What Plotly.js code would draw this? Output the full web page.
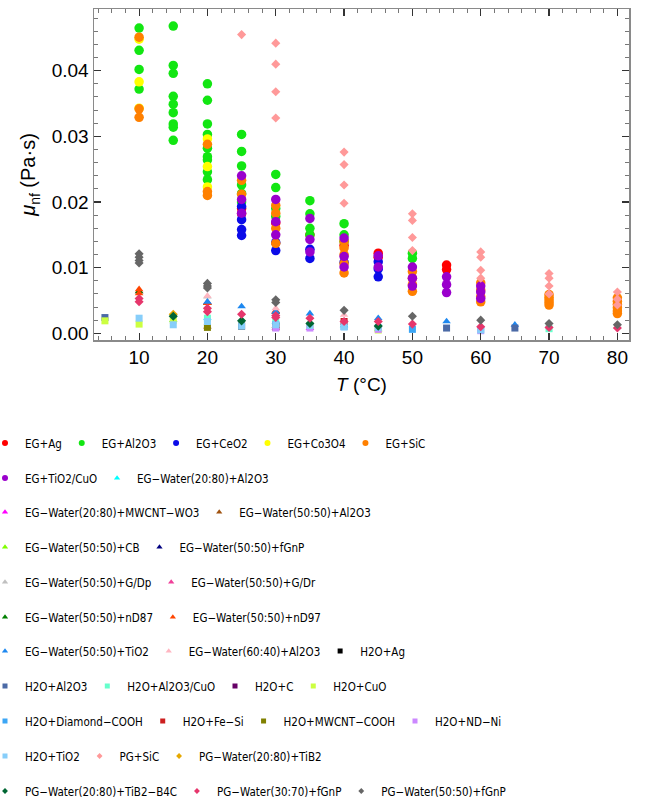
<!DOCTYPE html>
<html>
<head>
<meta charset="utf-8">
<script src="https://cdn.plot.ly/plotly-3.0.1.min.js"></script>
<style>
  html, body { margin: 0; padding: 0; background: #ffffff; }
  #chart { width: 668px; height: 804px; }
</style>
</head>
<body>
<div id="chart"></div>
<script>
// Nanofluid dynamic viscosity (Pa·s) against temperature (°C), one pair of arrays per fluid.

// ---- base fluid: ethylene glycol (EG) ----
const T_EG_Ag = [25, 25, 30, 35, 40, 45, 45, 55, 55];
const MU_EG_Ag = [0.0190, 0.0182, 0.0168, 0.0150, 0.0134, 0.0122, 0.0116, 0.0104, 0.0097];

const T_EG_Al2O3 = [10, 10, 10, 10,
  15, 15, 15, 15, 15, 15, 15, 15, 15,
  20, 20, 20, 20, 20, 20, 20, 20, 20,
  25, 25, 25, 25, 25, 25,
  30, 30, 30, 30,
  35, 35, 35, 35,
  40, 40, 40,
  50, 50];
const MU_EG_Al2O3 = [0.0465, 0.0431, 0.0402, 0.0372,
  0.0468, 0.0408, 0.0396, 0.0361, 0.0349, 0.0336, 0.0319, 0.0314, 0.0294,
  0.0380, 0.0355, 0.0319, 0.0303, 0.0282, 0.0269, 0.0264, 0.0246, 0.0234,
  0.0303, 0.0277, 0.0255, 0.0226, 0.0213, 0.0200,
  0.0242, 0.0222, 0.0190, 0.0178,
  0.0202, 0.0182, 0.0160, 0.0150,
  0.0167, 0.0150, 0.0140,
  0.0122, 0.0114];

const T_EG_CeO2 = [25, 25, 25, 25, 30, 30, 35, 35, 40, 45, 45, 45];
const MU_EG_CeO2 = [0.0193, 0.0173, 0.0158, 0.0149, 0.0138, 0.0126, 0.0128, 0.0114, 0.0108, 0.0109, 0.0098, 0.0086];

const T_EG_Co3O4 = [10, 10, 10, 20, 20, 20];
const MU_EG_Co3O4 = [0.0448, 0.0383, 0.0343, 0.0296, 0.0254, 0.0223];

const T_EG_SiC = [10, 10, 10, 20, 20, 20, 25, 25, 30, 30, 30, 30,
  40, 40, 40, 40, 40, 50, 50, 50, 50, 60, 60, 60, 60,
  70, 70, 70, 70, 70, 80, 80, 80, 80, 80, 80];
const MU_EG_SiC = [0.0451, 0.0342, 0.0329, 0.0288, 0.0216, 0.0210, 0.0233, 0.0212, 0.0195, 0.0183, 0.0160, 0.0137,
  0.0140, 0.0130, 0.0120, 0.0106, 0.0092, 0.0094, 0.0084, 0.0074, 0.0064, 0.0077, 0.0066, 0.0056, 0.0048,
  0.0059, 0.0055, 0.0051, 0.0047, 0.0043, 0.0054, 0.0049, 0.0044, 0.0039, 0.0034, 0.0030];

const T_EG_TiO2CuO = [25, 25, 25, 30, 30, 30, 35, 35, 35, 40, 40, 40, 45, 45, 50, 50, 50, 55, 55, 55, 60, 60, 60];
const MU_EG_TiO2CuO = [0.0240, 0.0204, 0.0183, 0.0204, 0.0170, 0.0150, 0.0175, 0.0143, 0.0124, 0.0145, 0.0117, 0.0101,
  0.0118, 0.0101, 0.0101, 0.0084, 0.0072, 0.0086, 0.0074, 0.0062, 0.0072, 0.0063, 0.0053];

// ---- base fluid: EG–water mixtures ----
const T_EGW2080_Al2O3 = [20, 30, 40];
const MU_EGW2080_Al2O3 = [0.0023, 0.0017, 0.0012];

const T_EGW2080_MWCNTWO3 = [30, 35];
const MU_EGW2080_MWCNTWO3 = [0.0008, 0.0008];

const T_EGW5050_Al2O3 = [20, 30];
const MU_EGW5050_Al2O3 = [0.0010, 0.0011];

const T_EGW5050_CB = [15, 45];
const MU_EGW5050_CB = [0.0020, 0.0006];

const T_EGW5050_fGnP = [20, 30];
const MU_EGW5050_fGnP = [0.0047, 0.0033];

const T_EGW5050_GDp = [10, 20];
const MU_EGW5050_GDp = [0.0064, 0.0056];

const T_EGW5050_GDr = [10, 20, 30];
const MU_EGW5050_GDr = [0.0064, 0.0047, 0.0033];

const T_EGW5050_nD87 = [10, 20, 30];
const MU_EGW5050_nD87 = [0.0064, 0.0046, 0.0033];

const T_EGW5050_nD97 = [10, 10, 20, 30];
const MU_EGW5050_nD97 = [0.0067, 0.0061, 0.0046, 0.0034];

const T_EGW5050_TiO2 = [20, 25, 30, 35, 45, 55, 65];
const MU_EGW5050_TiO2 = [0.0048, 0.0041, 0.0033, 0.0030, 0.0023, 0.0018, 0.0013];

const T_EGW6040_Al2O3 = [20, 30, 40];
const MU_EGW6040_Al2O3 = [0.0057, 0.0038, 0.0028];

// ---- base fluid: water ----
const T_H2O_Ag = [25];
const MU_H2O_Ag = [0.0011];

const T_H2O_Al2O3 = [5, 55, 65];
const MU_H2O_Al2O3 = [0.0024, 0.0008, 0.0008];

const T_H2O_Al2O3CuO = [20, 30, 60, 70];
const MU_H2O_Al2O3CuO = [0.0023, 0.0017, 0.0006, 0.0007];

const T_H2O_C = [30];
const MU_H2O_C = [0.0012];

const T_H2O_CuO = [5, 10, 15, 35, 45];
const MU_H2O_CuO = [0.0019, 0.0014, 0.0020, 0.0012, 0.0005];

const T_H2O_DiamondCOOH = [30, 40, 50];
const MU_H2O_DiamondCOOH = [0.0013, 0.0010, 0.0006];

const T_H2O_FeSi = [40];
const MU_H2O_FeSi = [0.0018];

const T_H2O_MWCNTCOOH = [20, 30];
const MU_H2O_MWCNTCOOH = [0.0009, 0.0009];

const T_H2O_NDNi = [30, 35, 45, 60];
const MU_H2O_NDNi = [0.0008, 0.0008, 0.0006, 0.0004];

const T_H2O_TiO2 = [10, 15, 20, 25, 30, 35, 40, 45, 60];
const MU_H2O_TiO2 = [0.0023, 0.0013, 0.0018, 0.0011, 0.0013, 0.0012, 0.0010, 0.0009, 0.0005];

// ---- base fluid: propylene glycol (PG) and PG–water ----
const T_PG_SiC = [25, 30, 30, 30, 30, 40, 40, 40, 40, 50, 50, 50, 50, 60, 60, 60, 60, 70, 70, 70, 70, 80, 80, 80];
const MU_PG_SiC = [0.0455, 0.0442, 0.0410, 0.0368, 0.0328, 0.0276, 0.0257, 0.0226, 0.0198, 0.0182, 0.0172, 0.0146, 0.0126,
  0.0124, 0.0116, 0.0096, 0.0084, 0.0091, 0.0084, 0.0072, 0.0060, 0.0063, 0.0052, 0.0043];

const T_PGW2080_TiB2 = [15];
const MU_PGW2080_TiB2 = [0.0029];

const T_PGW2080_TiB2B4C = [15, 25, 35, 45];
const MU_PGW2080_TiB2B4C = [0.0026, 0.0019, 0.0015, 0.0011];

const T_PGW3070_fGnP = [10, 10, 20, 20, 25, 30, 30, 35, 40, 45, 50, 60, 70, 80];
const MU_PGW3070_fGnP = [0.0053, 0.0048, 0.0038, 0.0033, 0.0029, 0.0027, 0.0024, 0.0023, 0.0018, 0.0018, 0.0014, 0.0010, 0.0009, 0.0008];

const T_PGW5050_fGnP = [10, 10, 10, 10, 20, 20, 20, 30, 30, 40, 50, 60, 70, 80];
const MU_PGW5050_fGnP = [0.0121, 0.0116, 0.0111, 0.0107, 0.0076, 0.0072, 0.0069, 0.0051, 0.0047, 0.0035, 0.0026, 0.0020, 0.0015, 0.0013];

// ---- series table: name, data, marker family, colour, legend row ----
const SERIES = [
  ['EG+Ag', T_EG_Ag, MU_EG_Ag, 'circle', '#ff0000', 1],
  ['EG+Al2O3', T_EG_Al2O3, MU_EG_Al2O3, 'circle', '#12e612', 1],
  ['EG+CeO2', T_EG_CeO2, MU_EG_CeO2, 'circle', '#0b0be8', 1],
  ['EG+Co3O4', T_EG_Co3O4, MU_EG_Co3O4, 'circle', '#ffff00', 1],
  ['EG+SiC', T_EG_SiC, MU_EG_SiC, 'circle', '#ff8000', 1],
  ['EG+TiO2/CuO', T_EG_TiO2CuO, MU_EG_TiO2CuO, 'circle', '#9a00cc', 2],
  ['EG−Water(20:80)+Al2O3', T_EGW2080_Al2O3, MU_EGW2080_Al2O3, 'triangle-up', '#00ffff', 2],
  ['EG−Water(20:80)+MWCNT−WO3', T_EGW2080_MWCNTWO3, MU_EGW2080_MWCNTWO3, 'triangle-up', '#ff00ff', 3],
  ['EG−Water(50:50)+Al2O3', T_EGW5050_Al2O3, MU_EGW5050_Al2O3, 'triangle-up', '#a0520f', 3],
  ['EG−Water(50:50)+CB', T_EGW5050_CB, MU_EGW5050_CB, 'triangle-up', '#80ff00', 4],
  ['EG−Water(50:50)+fGnP', T_EGW5050_fGnP, MU_EGW5050_fGnP, 'triangle-up', '#000080', 4],
  ['EG−Water(50:50)+G/Dp', T_EGW5050_GDp, MU_EGW5050_GDp, 'triangle-up', '#c0c0c0', 5],
  ['EG−Water(50:50)+G/Dr', T_EGW5050_GDr, MU_EGW5050_GDr, 'triangle-up', '#f0409a', 5],
  ['EG−Water(50:50)+nD87', T_EGW5050_nD87, MU_EGW5050_nD87, 'triangle-up', '#008000', 6],
  ['EG−Water(50:50)+nD97', T_EGW5050_nD97, MU_EGW5050_nD97, 'triangle-up', '#ff4500', 6],
  ['EG−Water(50:50)+TiO2', T_EGW5050_TiO2, MU_EGW5050_TiO2, 'triangle-up', '#1e88f0', 7],
  ['EG−Water(60:40)+Al2O3', T_EGW6040_Al2O3, MU_EGW6040_Al2O3, 'triangle-up', '#ffb6c1', 7],
  ['H2O+Ag', T_H2O_Ag, MU_H2O_Ag, 'square', '#000000', 7],
  ['H2O+Al2O3', T_H2O_Al2O3, MU_H2O_Al2O3, 'square', '#4b6aa6', 8],
  ['H2O+Al2O3/CuO', T_H2O_Al2O3CuO, MU_H2O_Al2O3CuO, 'square', '#66ffcc', 8],
  ['H2O+C', T_H2O_C, MU_H2O_C, 'square', '#660066', 8],
  ['H2O+CuO', T_H2O_CuO, MU_H2O_CuO, 'square', '#ccff40', 8],
  ['H2O+Diamond−COOH', T_H2O_DiamondCOOH, MU_H2O_DiamondCOOH, 'square', '#3ca6f5', 9],
  ['H2O+Fe−Si', T_H2O_FeSi, MU_H2O_FeSi, 'square', '#cc1f1f', 9],
  ['H2O+MWCNT−COOH', T_H2O_MWCNTCOOH, MU_H2O_MWCNTCOOH, 'square', '#808000', 9],
  ['H2O+ND−Ni', T_H2O_NDNi, MU_H2O_NDNi, 'square', '#cc88ff', 9],
  ['H2O+TiO2', T_H2O_TiO2, MU_H2O_TiO2, 'square', '#87cefa', 10],
  ['PG+SiC', T_PG_SiC, MU_PG_SiC, 'diamond', '#ff9999', 10],
  ['PG−Water(20:80)+TiB2', T_PGW2080_TiB2, MU_PGW2080_TiB2, 'diamond', '#e6a800', 10],
  ['PG−Water(20:80)+TiB2−B4C', T_PGW2080_TiB2B4C, MU_PGW2080_TiB2B4C, 'diamond', '#006633', 11],
  ['PG−Water(30:70)+fGnP', T_PGW3070_fGnP, MU_PGW3070_fGnP, 'diamond', '#e6366c', 11],
  ['PG−Water(50:50)+fGnP', T_PGW5050_fGnP, MU_PGW5050_fGnP, 'diamond', '#666666', 11]
];

// marker sizes in the plot and in the legend key
const PLOT_SIZE = { 'circle': 9.5, 'triangle-up': 7.5, 'square': 7, 'diamond': 7 };
const KEY_SIZE = { 'circle': 6, 'triangle-up': 5.5, 'square': 5, 'diamond': 4.5 };

// vertical centre (px from top) of each legend row
const ROW_Y = [443, 478, 512, 547, 582, 617, 651, 686, 721, 756, 791];
const FIG_W = 668, FIG_H = 804;
// trailing non-breaking spaces widen the gap between neighbouring legend entries
const ENTRY_PAD = '\u00a0\u00a0\u00a0';

const traces = [];
SERIES.forEach(function (s, i) {
  const [name, t, mu, sym, col, row] = s;
  const legendId = row === 1 ? 'legend' : 'legend' + row;
  const lastInRow = i === SERIES.length - 1 || SERIES[i + 1][5] !== row;
  traces.push({
    type: 'scatter', mode: 'markers', name: name, x: t, y: mu,
    legendgroup: name, showlegend: false,
    marker: { symbol: sym, size: PLOT_SIZE[sym], color: col, line: { width: 0 } },
    hoverinfo: 'x+y+name'
  });
  // legend key with a smaller symbol
  traces.push({
    type: 'scatter', mode: 'markers', name: lastInRow ? name : name + ENTRY_PAD,
    x: [null], y: [null],
    legendgroup: name, showlegend: true, legend: legendId,
    marker: { symbol: sym, size: KEY_SIZE[sym], color: col, line: { width: 0 } },
    hoverinfo: 'skip'
  });
});

const legendFont = { family: 'DejaVu Sans Condensed, Liberation Sans, Arial, sans-serif', size: 11.5, color: '#000000' };

const layout = {
  width: FIG_W, height: FIG_H,
  paper_bgcolor: '#ffffff', plot_bgcolor: '#ffffff',
  margin: { l: 94, r: 39, t: 9, b: 464, autoexpand: false },
  font: { family: 'Liberation Sans, Arial, sans-serif', color: '#000000' },
  xaxis: {
    range: [3.4, 81.7], tick0: 0, dtick: 10,
    showgrid: false, zeroline: false,
    showline: true, linecolor: '#8a8a8a', linewidth: 1.5, mirror: 'allticks',
    ticks: 'inside', ticklen: 7, tickwidth: 1.2, tickcolor: '#333333',
    minor: { dtick: 2, ticks: 'inside', ticklen: 4, tickwidth: 1, tickcolor: '#777777', showgrid: false },
    tickfont: { size: 19, color: '#000000' },
    title: { text: '<i>T</i> (°C)', font: { size: 19, color: '#000000' }, standoff: 10 },
    automargin: false
  },
  yaxis: {
    range: [-0.00102, 0.0494], tick0: 0, dtick: 0.01, tickformat: '.2f',
    showgrid: false, zeroline: false,
    showline: true, linecolor: '#8a8a8a', linewidth: 1.5, mirror: 'allticks',
    ticks: 'inside', ticklen: 7, tickwidth: 1.2, tickcolor: '#333333',
    minor: { dtick: 0.002, ticks: 'inside', ticklen: 4, tickwidth: 1, tickcolor: '#777777', showgrid: false },
    tickfont: { size: 19, color: '#000000' },
    title: { text: '<i>μ</i><sub>nf</sub> (Pa·s)', font: { size: 20, color: '#000000' }, standoff: 10 },
    automargin: false
  },
  showlegend: true
};

ROW_Y.forEach(function (yPx, i) {
  const key = i === 0 ? 'legend' : 'legend' + (i + 1);
  layout[key] = {
    orientation: 'h', xref: 'container', yref: 'container',
    x: 0, xanchor: 'left', indentation: -15,
    y: 1 - yPx / FIG_H, yanchor: 'middle',
    bgcolor: 'rgba(0,0,0,0)', borderwidth: 0,
    font: legendFont, itemclick: false, itemdoubleclick: false
  };
});

Plotly.newPlot('chart', traces, layout, { staticPlot: true, displayModeBar: false });
</script>
</body>
</html>
